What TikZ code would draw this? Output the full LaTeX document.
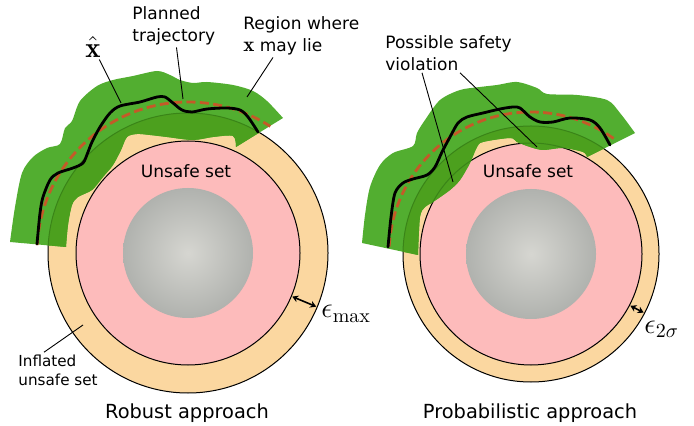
\documentclass[tikz,border=0pt]{standalone}
\usepackage{fontspec}
\setsansfont{DejaVu Sans}
\usepackage{tikz}
\usetikzlibrary{arrows.meta,calc}
\usepackage{amsmath}
\definecolor{Peach}{HTML}{FBD7A0}
\definecolor{Blush}{HTML}{FDBBBB}
\definecolor{Stone}{HTML}{B0B2AE}
\definecolor{StoneLight}{HTML}{D6D6D1}
\definecolor{Leaf}{HTML}{52AE30}
\definecolor{LeafDark}{HTML}{4CA01E}
\definecolor{Moss}{HTML}{3A8418}
\definecolor{Rust}{HTML}{C45A28}

\def\blobL{plot[smooth] coordinates {(10,242) (15,207) (22,173) (33,157) (47,148) (60,144) (65,128) (72,121) (80,101) (97,86) (113,80) (133,76) (157,71) (170,75) (180,80) (193,83) (207,82) (233,85) (253,91) (267,101) (283,118)} -- plot[smooth] coordinates {(236,147) (233,136) (213,137) (193,140) (167,137) (150,135) (137,134) (127,137) (121,150) (113,165) (103,177) (92,190) (78,197) (72,205) (68,225) (66,247)} -- cycle}
\def\blobR{plot[smooth] coordinates {(362,243) (365,215) (370,187) (380,165) (393,153) (413,146) (417,133) (425,120) (440,100) (460,90) (480,87) (497,85) (517,82) (537,88) (547,94) (577,95) (607,100) (620,113) (635,133)} -- plot[smooth] coordinates {(587,157) (583,152) (563,148) (543,150) (530,147) (517,142) (510,138) (483,142) (477,147) (470,163) (460,180) (450,190) (433,202) (425,207) (420,217) (418,255)} -- cycle}

\begin{document}
\begin{tikzpicture}[x=0.5pt,y=-0.5pt,
  lbl/.style={font=\fontsize{8.5}{10.8}\selectfont\sffamily,align=left,inner sep=1pt},
  smalllbl/.style={font=\fontsize{7.6}{9.5}\selectfont\sffamily,align=left,inner sep=1pt},
  captext/.style={font=\fontsize{9.7}{12}\selectfont\sffamily},
  ptr/.style={line width=0.45pt},
  traj/.style={line width=1.4pt,line cap=round},
  nominal/.style={Rust,line width=1.4pt,dash pattern=on 4.5pt off 2.2pt},
  margin/.style={line width=0.8pt,{Stealth[length=3pt,width=3.5pt]}-{Stealth[length=3pt,width=3.5pt]}}]
\useasboundingbox (0,0) rectangle (694,426);
\coordinate (cL) at (188,253);
\coordinate (cR) at (531,254);
% inflated set, unsafe set, obstacle
\foreach \c/\ro/\ri in {cL/140/112,cR/128/111} {
  \filldraw[fill=Peach,line width=0.5pt] (\c) circle (\ro);
  \filldraw[fill=Blush,line width=0.5pt] (\c) circle (\ri);
  \shade[inner color=StoneLight,outer color=Stone] (\c) circle (65);
}
% robust: region where x may lie
\fill[Leaf] \blobL;
\begin{scope}
  \clip (cL) circle (140);
  \fill[LeafDark] \blobL;
\end{scope}
\begin{scope}
  \clip \blobL;
  \draw[Moss,line width=0.5pt] (cL) circle (140) (cL) circle (112);
\end{scope}
\draw[nominal] ($(cL)+(-177:151)$) arc[start angle=-177,end angle=-57,radius=151];
\draw[traj] plot[smooth] coordinates {(37,244) (40,213) (43,197) (50,180) (58,173) (73,168) (83,163) (88,152) (92,142) (100,127) (110,113) (120,106) (140,102) (157,97) (165,97) (173,103) (182,110) (192,112) (207,109) (227,108) (240,110) (248,117) (258,132)};
% probabilistic: region where x may lie
\fill[Leaf] \blobR;
\begin{scope}
  \clip (cR) circle (128);
  \fill[LeafDark] \blobR;
\end{scope}
\begin{scope}
  \clip \blobR;
  \draw[Moss,line width=0.5pt] (cR) circle (128) (cR) circle (111);
\end{scope}
\draw[nominal] ($(cR)+(-177:142)$) arc[start angle=-177,end angle=-53,radius=142];
\draw[traj] plot[smooth] coordinates {(388,247) (391,217) (395,193) (403,183) (413,179) (427,175) (435,167) (442,152) (450,137) (458,123) (467,117) (483,113) (500,109) (513,107) (520,108) (530,117) (540,122) (553,122) (570,118) (590,120) (600,128) (610,145)};
% margins
\coordinate (gLa) at ($(cL)+(22.7:113)$);
\coordinate (gLb) at ($(cL)+(22.7:139)$);
\coordinate (gRa) at ($(cR)+(27.5:112)$);
\coordinate (gRb) at ($(cR)+(27.5:127)$);
\draw[margin] (gLa) -- (gLb);
\draw[margin] (gRa) -- (gRb);
\node[anchor=west,font=\Large,inner sep=0pt] (epsmax) at (321,314) {$\epsilon_{\max}$};
\node[anchor=west,font=\Large,inner sep=0pt] (eps2s) at (644,329) {$\epsilon_{2\sigma}$};
% labels
\node[lbl] (unsafeL) at (186,171) {Unsafe set};
\node[lbl] (unsafeR) at (528,171) {Unsafe set};
\node[font=\Large,inner sep=1pt] (xhat) at (93,47) {$\hat{\mathbf{x}}$};
\node[lbl,anchor=west] (planned) at (130,26) {Planned\\trajectory};
\node[lbl,anchor=west] (region) at (241,36) {Region where\\{\fontsize{10.5}{10.8}\selectfont$\mathbf{x}$} may lie};
\node[smalllbl,anchor=west] (inflated) at (16,370) {Inflated\\unsafe set};
\node[lbl,anchor=west] (viol) at (383,53) {Possible safety\\violation};
\coordinate (xhatpt) at (121,103);
\coordinate (planpt) at (183,99);
\coordinate (regionpt) at (247,97);
\coordinate (inflpt) at (83,325);
\coordinate (violA) at (453,182);
\coordinate (violB) at (537,147);
\draw[ptr] (xhat) -- (xhatpt);
\draw[ptr] (planned) -- (planpt);
\draw[ptr] ([xshift=16pt]region.south west) -- (regionpt);
\draw[ptr] ([xshift=14pt]inflated.north west) -- (inflpt);
\draw[ptr] ([xshift=19.5pt]viol.south west) -- (violA);
\draw[ptr] ([xshift=38.5pt]viol.south west) -- (violB);
\node[captext] (robust) at (187,413) {Robust approach};
\node[captext] (prob) at (530,413) {Probabilistic approach};
\end{tikzpicture}
\end{document}
